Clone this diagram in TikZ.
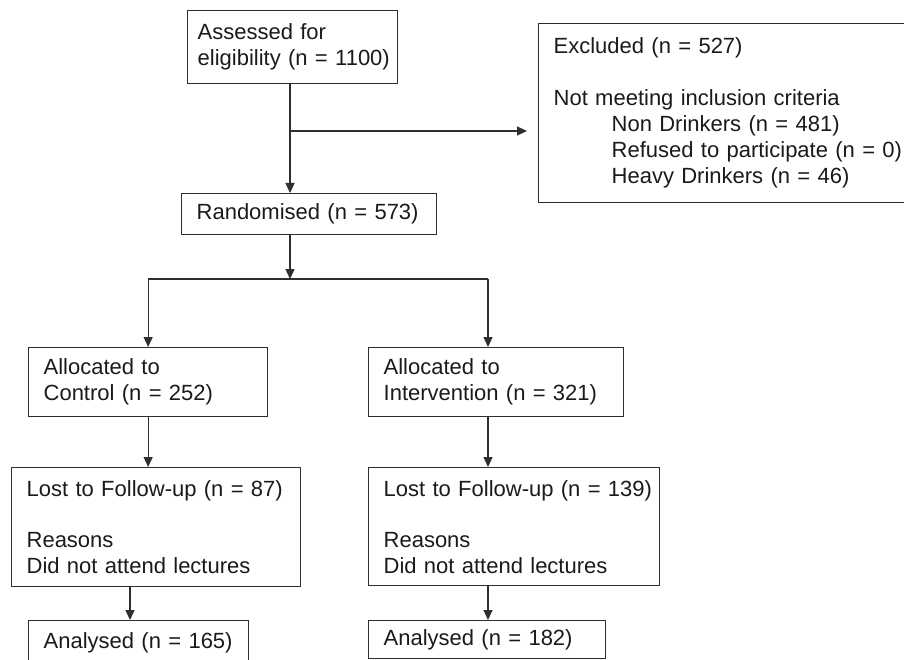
\documentclass[tikz,border=0pt]{standalone}
\usepackage{fontspec}
\setmainfont{Liberation Sans}
\usetikzlibrary{arrows.meta}
\definecolor{linegrey}{HTML}{2E2E2E}
\definecolor{textgrey}{HTML}{1A1A1A}
\begin{document}
\begin{tikzpicture}[x=1pt, y=-1pt,
    every node/.style={font=\fontsize{22}{26}\selectfont, text=textgrey},
    box/.style={draw=linegrey, line width=1.3pt, rectangle, anchor=north west, align=left, inner xsep=15pt, inner ysep=0pt,
      execute at begin node={\rightskip=-14pt plus 1fil}},
    arr/.style={draw=linegrey, line width=1.3pt, -{Triangle[length=10pt,width=9pt]}}]
          \clip (0,0) rectangle (904,660);
          \node [box, inner xsep=10pt, text width=190pt, minimum height=73pt] (1) at (187,10) {Assessed for\\eligibility (n = 1100)};
          \node [box, text width=360pt, minimum height=179pt] (2) at (538,23) {Excluded (n = 527)\\[26pt]Not meeting inclusion criteria\\\hspace*{58pt}Non Drinkers (n = 481)\\\hspace*{58pt}Refused to participate (n = 0)\\\hspace*{58pt}Heavy Drinkers (n = 46)};
          \node [box, text width=225pt, minimum height=41pt] (3) at (181,193) {Randomised (n = 573)};
          \node [box, text width=209pt, minimum height=69pt] (4) at (28,347) {Allocated to\\Control (n = 252)};
          \node [box, text width=225pt, minimum height=69pt] (5) at (368,347) {Allocated to\\Intervention (n = 321)};
          \node [box, text width=259pt, minimum height=119pt] (6) at (11,467) {Lost to Follow-up (n = 87)\\[25pt]Reasons\\Did not attend lectures};
          \node [box, text width=261pt, minimum height=118pt] (7) at (368,467) {Lost to Follow-up (n = 139)\\[25pt]Reasons\\Did not attend lectures};
          \node [box, text width=190pt, minimum height=45pt] (8) at (28,620) {Analysed (n = 165)};
          \node [box, text width=207pt, minimum height=38pt] (9) at (368,620) {Analysed (n = 182)};
          \coordinate (b) at (290,131);
          \coordinate (s) at (290,279);
          \coordinate (r) at (488,279);
          \coordinate (l) at (130,600);
          \draw [arr] (b |- 1.south) -- (b |- 3.north);
          \draw [arr, shorten >=11pt] (b) -- (b -| 2.west);
          \draw [arr] (s |- 3.south) -- (s);
          \draw [draw=linegrey, line width=1.3pt] (4.north |- s) -- (r);
          \draw [arr] (4.north |- s) -- (4.north);
          \draw [arr] (r) -- (r |- 5.north);
          \draw [arr] (4.south) -- (4.south |- 6.north);
          \draw [arr] (r |- 5.south) -- (r |- 7.north);
          \draw [arr] (l |- 6.south) -- (l |- 8.north);
          \draw [arr] (r |- 7.south) -- (r |- 9.north);
        \end{tikzpicture}
\end{document}
